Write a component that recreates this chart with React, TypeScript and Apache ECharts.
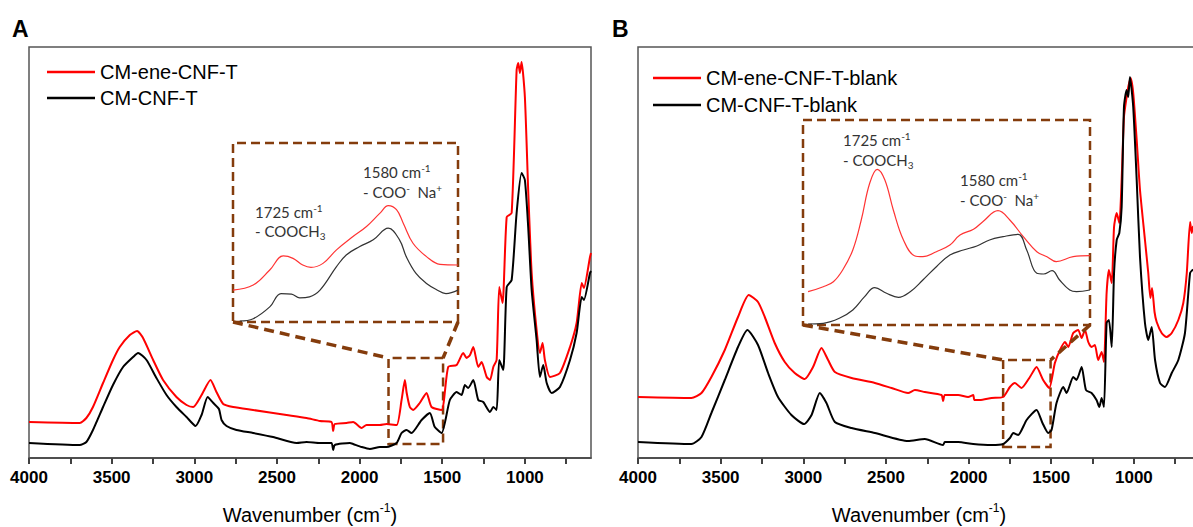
import React, { useEffect, useRef } from "react";
import * as echarts from "echarts";

// ---------- data (wavenumber cm-1, absorbance a.u.) ----------
const tickValues = [4000, 3750, 3500, 3250, 3000, 2750, 2500, 2250, 2000, 1750, 1500, 1250, 1000, 750];
const labelValues = [4000, 3500, 3000, 2500, 2000, 1500, 1000];

const namesA = ["CM-ene-CNF-T", "CM-CNF-T"];
const namesB = ["CM-ene-CNF-T-blank", "CM-CNF-T-blank"];

const redA: number[][] = [
  [4000, 36], [3693, 35], [3653, 40], [3613, 51], [3552, 75], [3492, 98], [3451, 111], [3390, 123], [3346, 127],
  [3310, 120], [3249, 98], [3189, 78], [3108, 61], [3047, 53], [3007, 51], [2956, 63], [2902, 78], [2866, 66],
  [2825, 54], [2765, 51], [2644, 48], [2442, 43], [2321, 40], [2240, 37], [2170, 36], [2160, 27], [2150, 34],
  [2079, 35], [2039, 36], [1988, 30], [1958, 33], [1877, 33], [1837, 34], [1776, 33], [1746, 58], [1726, 78],
  [1715, 65], [1696, 51], [1676, 48], [1636, 55], [1595, 65], [1565, 51], [1504, 48], [1464, 91], [1413, 93],
  [1373, 105], [1353, 100], [1332, 103], [1312, 111], [1282, 91], [1262, 96], [1231, 81], [1211, 78], [1191, 91],
  [1171, 98], [1155, 171], [1135, 155], [1110, 241], [1080, 245], [1050, 388], [1040, 395], [1030, 385],
  [1020, 396], [1000, 361], [980, 268], [959, 185], [929, 128], [909, 105], [893, 115], [879, 98], [848, 81],
  [788, 85], [727, 111], [687, 135], [656, 175], [643, 170], [606, 201], [600, 205],
];
const blackA: number[][] = [
  [4000, 15], [3693, 13], [3653, 16], [3613, 28], [3552, 51], [3492, 73], [3431, 91], [3370, 101], [3340, 105],
  [3289, 98], [3229, 80], [3168, 63], [3108, 51], [3047, 41], [2992, 32], [2956, 43], [2919, 61], [2885, 55],
  [2851, 49], [2835, 38], [2805, 32], [2745, 28], [2644, 25], [2523, 21], [2381, 15], [2321, 16], [2240, 15],
  [2170, 15], [2160, 8], [2150, 13], [2059, 15], [2039, 14], [1988, 11], [1938, 9], [1877, 11], [1837, 11],
  [1776, 15], [1746, 25], [1716, 28], [1686, 25], [1625, 38], [1575, 45], [1545, 31], [1504, 25], [1454, 58],
  [1413, 66], [1383, 63], [1363, 73], [1343, 70], [1312, 78], [1282, 58], [1252, 56], [1211, 46], [1191, 51],
  [1171, 48], [1155, 98], [1131, 88], [1110, 171], [1080, 178], [1050, 245], [1020, 285], [1000, 278], [980, 231],
  [959, 168], [929, 118], [909, 81], [889, 93], [868, 75], [838, 65], [788, 71], [727, 98], [687, 125], [656, 161],
  [643, 158], [606, 185], [600, 187],
];
const redAInset: number[][] = [
  [1800, 31.7], [1773, 36.7], [1751, 51.7], [1733, 65.7], [1720, 63.3], [1707, 56.7], [1696, 54.3], [1680, 58.3],
  [1662, 71.7], [1640, 85], [1622, 95], [1604, 108.3], [1593, 115.7], [1582, 111.7], [1573, 98.3], [1560, 78.3],
  [1542, 65], [1524, 57.3], [1500, 56.7],
];
const blackAInset: number[][] = [
  [1791, 1], [1773, 3.3], [1751, 15], [1736, 28.3], [1722, 27.7], [1711, 24], [1698, 25], [1684, 31.7], [1662, 55],
  [1649, 66.7], [1631, 75], [1613, 81.7], [1593, 93.3], [1578, 81.7], [1569, 65], [1556, 48.3], [1542, 38.3],
  [1529, 32.3], [1516, 28.3], [1500, 31.7],
];

const redB: number[][] = [
  [4000, 61], [3677, 60], [3616, 65], [3556, 81], [3475, 108], [3395, 141], [3330, 163], [3274, 156], [3233, 141],
  [3173, 115], [3112, 96], [3052, 85], [2991, 79], [2941, 91], [2890, 110], [2850, 98], [2809, 86], [2708, 80],
  [2567, 75], [2466, 70], [2366, 65], [2325, 68], [2265, 66], [2164, 63], [2154, 57], [2144, 63], [2063, 63],
  [2003, 61], [1972, 63], [1965, 58], [1932, 58], [1861, 60], [1791, 61], [1750, 71], [1720, 75], [1680, 70],
  [1629, 81], [1589, 91], [1549, 78], [1512, 70], [1478, 95], [1447, 108], [1417, 116], [1397, 111], [1367, 125],
  [1337, 128], [1316, 120], [1296, 128], [1276, 116], [1256, 111], [1236, 113], [1216, 98], [1195, 106], [1181, 96],
  [1165, 165], [1151, 188], [1134, 175], [1120, 231], [1104, 245], [1088, 235], [1074, 278], [1060, 341],
  [1044, 361], [1034, 371], [1020, 380], [1004, 365], [983, 318], [963, 268], [933, 218], [913, 185], [900, 160],
  [890, 170], [875, 146], [862, 136], [832, 125], [802, 121], [771, 125], [731, 138], [701, 155], [680, 185],
  [660, 236], [650, 225], [643, 231], [600, 235],
];
const blackB: number[][] = [
  [4000, 16], [3677, 14], [3616, 21], [3556, 45], [3475, 78], [3395, 111], [3338, 128], [3274, 113], [3213, 85],
  [3153, 61], [3072, 43], [2995, 34], [2950, 43], [2900, 65], [2860, 55], [2809, 36], [2708, 30], [2567, 25],
  [2366, 17], [2265, 19], [2154, 13], [2144, 16], [2063, 16], [1972, 14], [1861, 13], [1791, 14], [1750, 20],
  [1730, 25], [1700, 23], [1649, 38], [1589, 48], [1553, 35], [1518, 25], [1498, 28], [1468, 55], [1427, 71],
  [1407, 65], [1367, 81], [1347, 78], [1316, 91], [1290, 68], [1256, 65], [1226, 58], [1209, 51], [1195, 60],
  [1181, 51], [1165, 135], [1151, 138], [1134, 111], [1120, 185], [1104, 218], [1088, 225], [1074, 251],
  [1060, 351], [1044, 368], [1034, 361], [1024, 381], [1004, 351], [983, 278], [963, 201], [933, 135], [913, 118],
  [892, 131], [872, 98], [842, 75], [812, 71], [771, 85], [731, 98], [691, 125], [660, 185], [643, 188], [600, 190],
];
const redBInset: number[][] = [
  [1804, 33.3], [1786, 38.3], [1774, 43.3], [1763, 55], [1751, 75], [1741, 105], [1731, 141.7], [1722, 155.7],
  [1713, 145], [1703, 115], [1691, 85], [1678, 69.3], [1668, 68.3], [1652, 73.3], [1636, 80], [1624, 90],
  [1608, 95.7], [1597, 103.3], [1579, 114.3], [1565, 105], [1549, 88.3], [1533, 73.3], [1521, 68.3], [1510, 63.3],
  [1490, 68.3], [1470, 69.3],
];
const blackBInset: number[][] = [
  [1804, 1], [1786, 1.7], [1767, 6.7], [1751, 15], [1737, 28.3], [1725, 37.3], [1711, 31.7], [1697, 27.7],
  [1683, 33.3], [1668, 45], [1652, 58.3], [1636, 70], [1620, 75], [1604, 79], [1589, 85], [1573, 88.3],
  [1555, 90.7], [1545, 75], [1533, 51.7], [1525, 51], [1515, 54.3], [1506, 45], [1494, 35], [1486, 33.3],
  [1470, 35],
];

// inset ranges and zoom boxes (data coordinates)
const insetA = { xMin: 1500, xMax: 1800, yMax: 178 };
const insetB = { xMin: 1470, xMax: 1810, yMax: 205 };
const boxA = { x1: 1825, x2: 1495, y1: 14, y2: 100 };
const boxB = { x1: 1791, x2: 1504, y1: 11, y2: 98 };
const mainRange = { xMin: 600, xMax: 4000, yMax: 411 };

// ---------- styles ----------
const RED = "#ff0000";
const BLACK = "#000000";
const BROWN = "#843c0c";
const SANS = "'Liberation Sans', Arial, sans-serif";
const LBL = "Lato, 'Open Sans', sans-serif";

function mainX(gridIndex: number) {
  return {
    type: "value", gridIndex, min: mainRange.xMin, max: mainRange.xMax, inverse: true,
    axisLine: { show: true, onZero: false, lineStyle: { color: "#000", width: 1.5 } },
    axisTick: { show: true, length: 6, customValues: tickValues, lineStyle: { color: "#000", width: 1.5 } },
    axisLabel: {
      customValues: labelValues, formatter: (v: number) => String(v),
      fontFamily: SANS, fontWeight: "bold", fontSize: 17, color: "#000", margin: 11,
    },
    splitLine: { show: false },
    name: "Wavenumber (cm{s|-1})", nameLocation: "middle", nameGap: 44,
    nameTextStyle: {
      fontFamily: SANS, fontSize: 20, color: "#000", lineHeight: 26,
      rich: { s: { fontFamily: SANS, fontSize: 12, lineHeight: 14, verticalAlign: "top", color: "#000" } },
    },
  };
}
function hiddenAxis(gridIndex: number, min: number, max: number, inverse = false) {
  return { type: "value", gridIndex, min, max, inverse, show: false, splitLine: { show: false } };
}
function line(name: string, data: number[][], xi: number, color: string, width: number, extra: any = {}) {
  return {
    type: "line", name, data, xAxisIndex: xi, yAxisIndex: xi, showSymbol: false, symbol: "none",
    smooth: 0.2, color, lineStyle: { color, width }, itemStyle: { color }, silent: true, ...extra,
  };
}
function boxArea(x1: number, x2: number, y1: number, y2: number, w: number) {
  return {
    silent: true, label: { show: false },
    itemStyle: { color: "rgba(0,0,0,0)", borderColor: BROWN, borderWidth: w, borderType: [9, 5] },
    data: [[{ xAxis: x1, yAxis: y1 }, { xAxis: x2, yAxis: y2 }]],
  };
}

const rich = {
  s: { fontFamily: LBL, fontSize: 10, lineHeight: 10, verticalAlign: "top", fill: "#333" },
  b: { fontFamily: LBL, fontSize: 10, lineHeight: 10, verticalAlign: "bottom", fill: "#333" },
};
function label(x: number, y: number, text: string) {
  return {
    type: "text", x, y, z: 20, silent: true,
    style: { text, rich, fontFamily: LBL, fontSize: 15, lineHeight: 19, fill: "#333", verticalAlign: "middle" },
  };
}

export default function App() {
  const ref = useRef<HTMLDivElement>(null);
  useEffect(() => {
    if (!ref.current) return;
    const chart = echarts.init(ref.current, null, { renderer: "svg" });
    const legendCommon = {
      orient: "vertical", icon: "rect", itemWidth: 48, itemHeight: 2.5, selectedMode: false,
      textStyle: { fontFamily: SANS, fontSize: 20, color: "#000" },
    };
    const g = { outerBoundsMode: "none", containLabel: false };
    chart.setOption({
      animation: false,
      backgroundColor: "#fff",
      grid: [
        { ...g, left: 29, top: 47, width: 562, height: 411 },
        { ...g, left: 233, top: 143, width: 225, height: 179 },
        { ...g, left: 638, top: 47, width: 562, height: 411 },
        { ...g, left: 803, top: 120, width: 287, height: 205 },
      ],
      xAxis: [
        mainX(0),
        hiddenAxis(1, insetA.xMin, insetA.xMax, true),
        mainX(2),
        hiddenAxis(3, insetB.xMin, insetB.xMax, true),
      ],
      yAxis: [
        hiddenAxis(0, 0, mainRange.yMax), hiddenAxis(1, 0, insetA.yMax),
        hiddenAxis(2, 0, mainRange.yMax), hiddenAxis(3, 0, insetB.yMax),
      ],
      legend: [
        { ...legendCommon, left: 42, top: 57, itemGap: 6, data: namesA },
        { ...legendCommon, left: 648, top: 63, itemGap: 7, data: namesB },
      ],
      series: [
        line(namesA[0], redA, 0, RED, 2, { markArea: boxArea(boxA.x1, boxA.x2, boxA.y1, boxA.y2, 2.5) }),
        line(namesA[1], blackA, 0, BLACK, 2),
        line("A inset red", redAInset, 1, "#ff3333", 1.2, {
          smooth: 0.4, clip: false,
          markArea: boxArea(insetA.xMax, insetA.xMin, 0, insetA.yMax, 2.5),
        }),
        line("A inset black", blackAInset, 1, "#333", 1.2, { smooth: 0.4 }),
        line(namesB[0], redB, 2, RED, 2, { markArea: boxArea(boxB.x1, boxB.x2, boxB.y1, boxB.y2, 2.5) }),
        line(namesB[1], blackB, 2, BLACK, 2),
        line("B inset red", redBInset, 3, "#ff3333", 1.2, {
          smooth: 0.4, clip: false,
          markArea: boxArea(insetB.xMax, insetB.xMin, 0, insetB.yMax, 2.5),
        }),
        line("B inset black", blackBInset, 3, "#333", 1.2, { smooth: 0.4 }),
      ],
    });

    const px = (i: number, p: number[]) => chart.convertToPixel({ xAxisIndex: i, yAxisIndex: i }, p) as number[];
    const conn = (a: number[], b: number[]) => ({
      type: "line", z: 15, silent: true,
      shape: { x1: a[0], y1: a[1], x2: b[0], y2: b[1] },
      style: { stroke: BROWN, lineWidth: 3.5, lineDash: [10, 6] },
    });
    const frame = (i: number) => {
      const tl = px(i, [mainRange.xMax, mainRange.yMax]);
      const br = px(i, [mainRange.xMin, 0]);
      return {
        type: "rect", z: 1, silent: true,
        shape: { x: tl[0], y: tl[1], width: br[0] - tl[0], height: br[1] - tl[1] },
        style: { fill: "none", stroke: "#555", lineWidth: 1.5 },
      };
    };
    chart.setOption({
      graphic: [
        frame(0),
        frame(2),
        { type: "text", x: 12, y: 17, style: { text: "A", fontFamily: SANS, fontWeight: "bold", fontSize: 23, fill: "#000" } },
        { type: "text", x: 612, y: 17, style: { text: "B", fontFamily: SANS, fontWeight: "bold", fontSize: 23, fill: "#000" } },
        conn(px(1, [insetA.xMax, 0]), px(0, [boxA.x1, boxA.y2])),
        conn(px(1, [insetA.xMin, 0]), px(0, [boxA.x2, boxA.y2])),
        conn(px(3, [insetB.xMax, 0]), px(2, [boxB.x1, boxB.y2])),
        conn(px(3, [insetB.xMin, 0]), px(2, [boxB.x2, boxB.y2])),
        label(255, 212, "1725 cm{s|-1}"),
        label(255, 231, "- COOCH{b|3}"),
        label(363, 172, "1580 cm{s|-1}"),
        label(363, 192, "- COO{s|-}  Na{s|+}"),
        label(843, 140, "1725 cm{s|-1}"),
        label(843, 160, "- COOCH{b|3}"),
        label(960, 180, "1580 cm{s|-1}"),
        label(960, 200, "- COO{s|-}  Na{s|+}"),
      ],
    });
    return () => chart.dispose();
  }, []);
  return (
    <div
      ref={ref}
      style={{ position: "fixed", left: 0, top: 0, width: 1193, height: 527, background: "#fff" }}
    />
  );
}
